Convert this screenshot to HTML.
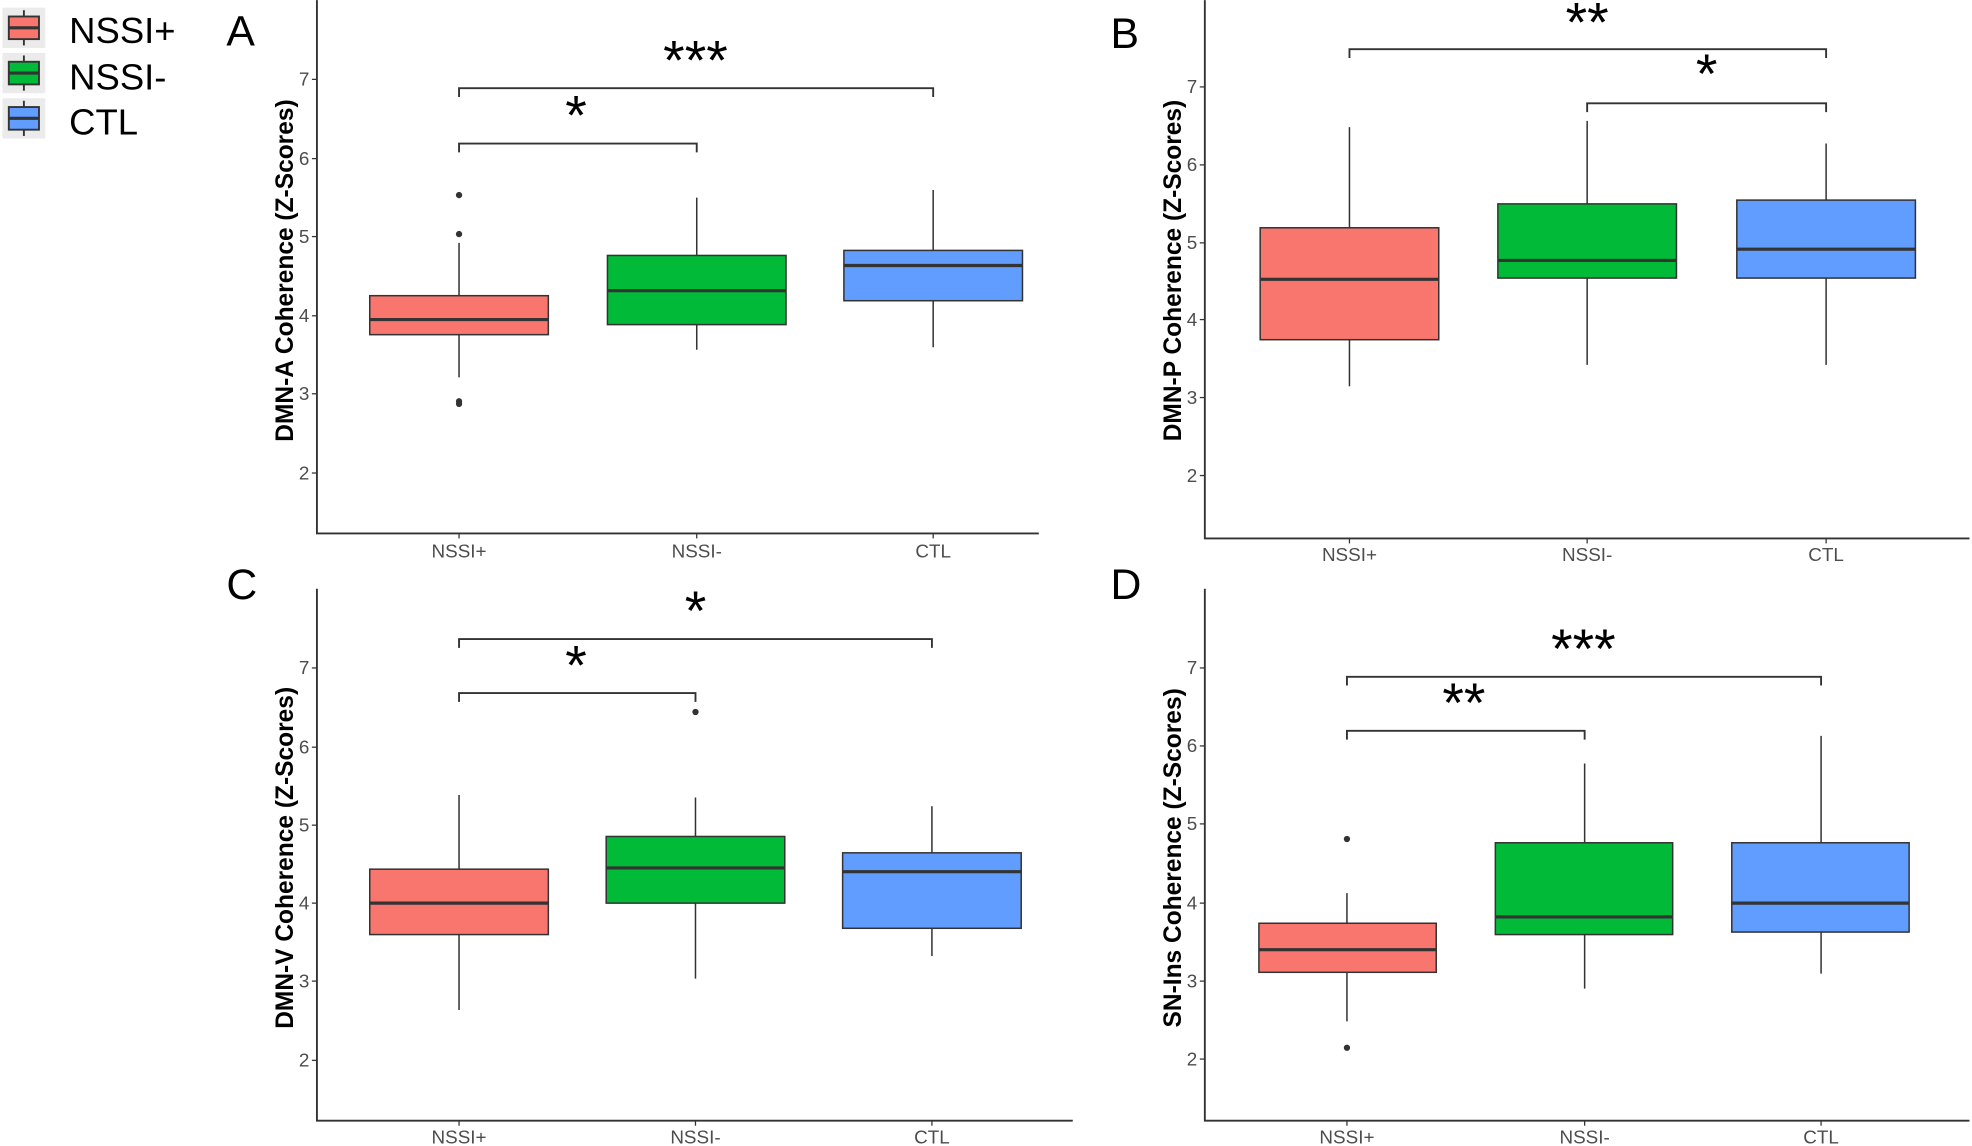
<!DOCTYPE html>
<html><head><meta charset="utf-8"><style>
html,body{margin:0;padding:0;background:#fff}
svg{display:block}
text{font-family:"Liberation Sans",sans-serif}
.tk{font-size:15px;fill:#4d4d4d;text-anchor:end}
.xl{font-size:15px;fill:#4d4d4d;text-anchor:middle}
.yt{font-size:19.5px;font-weight:bold;fill:#000;text-anchor:middle}
.st{font-size:44px;fill:#000;text-anchor:middle}
.pl{font-size:34px;fill:#000}
.lg{font-size:29px;fill:#000}
</style></head><body>
<svg width="1972" height="1146" viewBox="0 0 1568 911" xmlns="http://www.w3.org/2000/svg">
<rect width="1568" height="911" fill="#fff"/>
<g stroke="#333" stroke-width="1.5">
<rect x="2" y="6" width="34" height="32" fill="#ebebeb" stroke="none"/>
<line x1="19" y1="8" x2="19" y2="36"/><rect x="7" y="13" width="24" height="18" fill="#F8766D"/><line x1="7" y1="22" x2="31" y2="22" stroke-width="2.5"/>
<rect x="2" y="42" width="34" height="32" fill="#ebebeb" stroke="none"/>
<line x1="19" y1="44" x2="19" y2="72"/><rect x="7" y="49" width="24" height="18" fill="#00BA38"/><line x1="7" y1="58" x2="31" y2="58" stroke-width="2.5"/>
<rect x="2" y="78" width="34" height="32" fill="#ebebeb" stroke="none"/>
<line x1="19" y1="80" x2="19" y2="108"/><rect x="7" y="85" width="24" height="18" fill="#619CFF"/><line x1="7" y1="94" x2="31" y2="94" stroke-width="2.5"/>
</g>
<text class="lg" x="55" y="34">NSSI+</text>
<text class="lg" x="55" y="71">NSSI-</text>
<text class="lg" x="55" y="107">CTL</text>
<text class="pl" x="180" y="36">A</text>
<text class="pl" x="883" y="38">B</text>
<text class="pl" x="180" y="476">C</text>
<text class="pl" x="883" y="476">D</text>

<g stroke="#333" fill="none" stroke-width="1.5">
<polyline points="252,0 252,424 826,424"/>
<polyline points="958,0 958,428 1566,428"/>
<polyline points="252,468 252,891 853,891"/>
<polyline points="958,468 958,891 1566,891"/>
</g>
<g stroke="#333" stroke-width="1">
<line x1="248" y1="63" x2="252" y2="63"/><line x1="248" y1="126" x2="252" y2="126"/><line x1="248" y1="188" x2="252" y2="188"/><line x1="248" y1="251" x2="252" y2="251"/><line x1="248" y1="313" x2="252" y2="313"/><line x1="248" y1="376" x2="252" y2="376"/>
<line x1="954" y1="69" x2="958" y2="69"/><line x1="954" y1="131" x2="958" y2="131"/><line x1="954" y1="193" x2="958" y2="193"/><line x1="954" y1="254" x2="958" y2="254"/><line x1="954" y1="316" x2="958" y2="316"/><line x1="954" y1="378" x2="958" y2="378"/>
<line x1="248" y1="531" x2="252" y2="531"/><line x1="248" y1="594" x2="252" y2="594"/><line x1="248" y1="656" x2="252" y2="656"/><line x1="248" y1="718" x2="252" y2="718"/><line x1="248" y1="780" x2="252" y2="780"/><line x1="248" y1="843" x2="252" y2="843"/>
<line x1="954" y1="531" x2="958" y2="531"/><line x1="954" y1="593" x2="958" y2="593"/><line x1="954" y1="655" x2="958" y2="655"/><line x1="954" y1="718" x2="958" y2="718"/><line x1="954" y1="780" x2="958" y2="780"/><line x1="954" y1="842" x2="958" y2="842"/>
<line x1="365" y1="424" x2="365" y2="428"/><line x1="554" y1="424" x2="554" y2="428"/><line x1="742" y1="424" x2="742" y2="428"/>
<line x1="1073" y1="428" x2="1073" y2="432"/><line x1="1262" y1="428" x2="1262" y2="432"/><line x1="1452" y1="428" x2="1452" y2="432"/>
<line x1="365" y1="891" x2="365" y2="895"/><line x1="553" y1="891" x2="553" y2="895"/><line x1="741" y1="891" x2="741" y2="895"/>
<line x1="1071" y1="891" x2="1071" y2="895"/><line x1="1260" y1="891" x2="1260" y2="895"/><line x1="1448" y1="891" x2="1448" y2="895"/>
</g>
<text class="tk" x="246" y="68">7</text><text class="tk" x="246" y="131">6</text><text class="tk" x="246" y="193">5</text><text class="tk" x="246" y="256">4</text><text class="tk" x="246" y="318">3</text><text class="tk" x="246" y="381">2</text>
<text class="tk" x="952" y="74">7</text><text class="tk" x="952" y="136">6</text><text class="tk" x="952" y="198">5</text><text class="tk" x="952" y="259">4</text><text class="tk" x="952" y="321">3</text><text class="tk" x="952" y="383">2</text>
<text class="tk" x="246" y="536">7</text><text class="tk" x="246" y="599">6</text><text class="tk" x="246" y="661">5</text><text class="tk" x="246" y="723">4</text><text class="tk" x="246" y="785">3</text><text class="tk" x="246" y="848">2</text>
<text class="tk" x="952" y="536">7</text><text class="tk" x="952" y="598">6</text><text class="tk" x="952" y="660">5</text><text class="tk" x="952" y="723">4</text><text class="tk" x="952" y="785">3</text><text class="tk" x="952" y="847">2</text>
<text class="xl" x="365" y="443">NSSI+</text><text class="xl" x="554" y="443">NSSI-</text><text class="xl" x="742" y="443">CTL</text>
<text class="xl" x="1073" y="446">NSSI+</text><text class="xl" x="1262" y="446">NSSI-</text><text class="xl" x="1452" y="446">CTL</text>
<text class="xl" x="365" y="909">NSSI+</text><text class="xl" x="553" y="909">NSSI-</text><text class="xl" x="741" y="909">CTL</text>
<text class="xl" x="1071" y="909">NSSI+</text><text class="xl" x="1260" y="909">NSSI-</text><text class="xl" x="1448" y="909">CTL</text>

<text class="yt" transform="translate(233,215) rotate(-90)">DMN-A Coherence (Z-Scores)</text>
<text class="yt" transform="translate(939,215) rotate(-90)">DMN-P Coherence (Z-Scores)</text>
<text class="yt" transform="translate(233,682) rotate(-90)">DMN-V Coherence (Z-Scores)</text>
<text class="yt" transform="translate(939,682) rotate(-90)">SN-Ins Coherence (Z-Scores)</text>

<g stroke="#333" fill="none" stroke-width="1.5">
<polyline points="365,77 365,70 742,70 742,77"/><polyline points="365,121 365,114 554,114 554,121"/>
<polyline points="1073,46 1073,39 1452,39 1452,46"/><polyline points="1262,89 1262,82 1452,82 1452,89"/>
<polyline points="365,515 365,508 741,508 741,515"/><polyline points="365,558 365,551 553,551 553,558"/>
<polyline points="1071,545 1071,538 1448,538 1448,545"/><polyline points="1071,588 1071,581 1260,581 1260,588"/>
</g>
<text class="st" x="553" y="63">***</text><text class="st" x="458" y="107">*</text>
<text class="st" x="1262" y="33">**</text><text class="st" x="1357" y="74">*</text>
<text class="st" x="553" y="501">*</text><text class="st" x="458" y="544">*</text>
<text class="st" x="1259" y="531">***</text><text class="st" x="1164" y="574">**</text>

<g stroke="#333" stroke-width="1.2">
<line x1="365" y1="193" x2="365" y2="300"/><rect x="294" y="235" width="142" height="31" fill="#F8766D"/>
<line x1="554" y1="157" x2="554" y2="278"/><rect x="483" y="203" width="142" height="55" fill="#00BA38"/>
<line x1="742" y1="151" x2="742" y2="276"/><rect x="671" y="199" width="142" height="40" fill="#619CFF"/>
<line x1="1073" y1="101" x2="1073" y2="307"/><rect x="1002" y="181" width="142" height="89" fill="#F8766D"/>
<line x1="1262" y1="96" x2="1262" y2="290"/><rect x="1191" y="162" width="142" height="59" fill="#00BA38"/>
<line x1="1452" y1="114" x2="1452" y2="290"/><rect x="1381" y="159" width="142" height="62" fill="#619CFF"/>
<line x1="365" y1="632" x2="365" y2="803"/><rect x="294" y="691" width="142" height="52" fill="#F8766D"/>
<line x1="553" y1="634" x2="553" y2="778"/><rect x="482" y="665" width="142" height="53" fill="#00BA38"/>
<line x1="741" y1="641" x2="741" y2="760"/><rect x="670" y="678" width="142" height="60" fill="#619CFF"/>
<line x1="1071" y1="710" x2="1071" y2="812"/><rect x="1001" y="734" width="141" height="39" fill="#F8766D"/>
<line x1="1260" y1="607" x2="1260" y2="786"/><rect x="1189" y="670" width="141" height="73" fill="#00BA38"/>
<line x1="1448" y1="585" x2="1448" y2="774"/><rect x="1377" y="670" width="141" height="71" fill="#619CFF"/>
</g>
<g stroke="#333" stroke-width="2.5">
<line x1="294" y1="254" x2="436" y2="254"/><line x1="483" y1="231" x2="625" y2="231"/><line x1="671" y1="211" x2="813" y2="211"/>
<line x1="1002" y1="222" x2="1144" y2="222"/><line x1="1191" y1="207" x2="1333" y2="207"/><line x1="1381" y1="198" x2="1523" y2="198"/>
<line x1="294" y1="718" x2="436" y2="718"/><line x1="482" y1="690" x2="624" y2="690"/><line x1="670" y1="693" x2="812" y2="693"/>
<line x1="1001" y1="755" x2="1142" y2="755"/><line x1="1189" y1="729" x2="1330" y2="729"/><line x1="1377" y1="718" x2="1518" y2="718"/>
</g>
<g fill="#333">
<circle cx="365" cy="155" r="2.5"/><circle cx="365" cy="186" r="2.5"/><circle cx="365" cy="319" r="2.5"/><circle cx="365" cy="321" r="2.5"/>
<circle cx="553" cy="566" r="2.5"/>
<circle cx="1071" cy="667" r="2.5"/><circle cx="1071" cy="833" r="2.5"/>
</g>
</svg>
</body></html>
